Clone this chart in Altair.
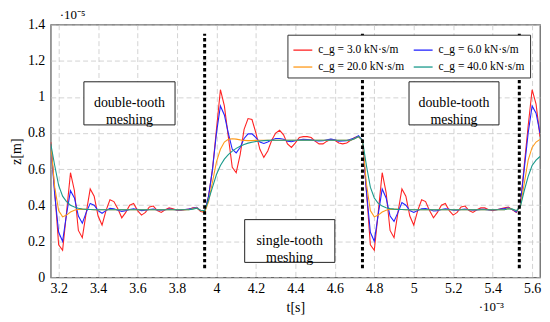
import altair as alt
import pandas as pd

# time grid (ms, x 1e-3 s) and read values (x 1e-5 m)
t_start, t_step, n_pts = 3.16, 0.02, 125
times = [round(t_start + t_step * i, 2) for i in range(n_pts)]

series_names = ["c_g = 3.0 kN·s/m", "c_g = 6.0 kN·s/m", "c_g = 20.0 kN·s/m", "c_g = 40.0 kN·s/m"]
series_colors = ["#ff2424", "#2424ff", "#ff9a1a", "#1a9a8c"]
# legend fills column by column: 3.0 / 20.0 in the first column, 6.0 / 40.0 in the second
legend_order = [series_names[0], series_names[2], series_names[1], series_names[3]]
legend_colors = [series_colors[0], series_colors[2], series_colors[1], series_colors[3]]

red = [
    0.75, 0.48, 0.18, 0.15, 0.36, 0.58, 0.48, 0.26, 0.22, 0.36,
    0.49, 0.45, 0.34, 0.29, 0.37, 0.43, 0.42, 0.38, 0.33, 0.36,
    0.40, 0.41, 0.37, 0.345, 0.36, 0.39, 0.395, 0.37, 0.36, 0.375,
    0.385, 0.38, 0.372, 0.372, 0.375, 0.378, 0.385, 0.385, 0.365,
    0.36, 0.45, 0.60, 0.82, 1.04, 0.95, 0.78, 0.61, 0.58, 0.68,
    0.82, 0.88, 0.875, 0.80, 0.71, 0.665, 0.70, 0.76, 0.80, 0.815,
    0.79, 0.74, 0.72, 0.745, 0.775, 0.78, 0.78, 0.775, 0.755, 0.74,
    0.74, 0.755, 0.765, 0.76, 0.745, 0.74, 0.745, 0.76, 0.775, 0.78,
    0.76, 0.48, 0.18, 0.15, 0.36, 0.58, 0.47, 0.26, 0.22, 0.36,
    0.49, 0.45, 0.34, 0.29, 0.37, 0.43, 0.42, 0.37, 0.33, 0.36,
    0.40, 0.41, 0.37, 0.345, 0.36, 0.39, 0.395, 0.37, 0.36, 0.375,
    0.385, 0.385, 0.375, 0.37, 0.375, 0.38, 0.385, 0.39, 0.375, 0.36,
    0.40, 0.62, 0.84, 1.04, 0.96, 0.78,
]
blue = [
    0.74, 0.46, 0.25, 0.20, 0.35, 0.48, 0.44, 0.34, 0.30, 0.36,
    0.41, 0.40, 0.37, 0.355, 0.37, 0.382, 0.38, 0.372, 0.366, 0.37,
    0.376, 0.38, 0.376, 0.37, 0.372, 0.376, 0.378, 0.374, 0.372, 0.375,
    0.378, 0.376, 0.373, 0.374, 0.376, 0.378, 0.383, 0.388, 0.37,
    0.36, 0.45, 0.60, 0.80, 0.95, 0.90, 0.80, 0.71, 0.69, 0.72,
    0.77, 0.795, 0.795, 0.775, 0.75, 0.742, 0.75, 0.762, 0.77, 0.77,
    0.765, 0.755, 0.752, 0.757, 0.763, 0.765, 0.764, 0.762, 0.758, 0.756,
    0.757, 0.762, 0.766, 0.762, 0.755, 0.756, 0.758, 0.765, 0.772, 0.785,
    0.76, 0.48, 0.25, 0.20, 0.35, 0.49, 0.44, 0.34, 0.31, 0.36,
    0.415, 0.40, 0.37, 0.36, 0.37, 0.38, 0.382, 0.376, 0.368, 0.37,
    0.376, 0.38, 0.377, 0.372, 0.372, 0.376, 0.378, 0.375, 0.372, 0.374,
    0.377, 0.377, 0.374, 0.373, 0.375, 0.378, 0.381, 0.386, 0.376, 0.362,
    0.40, 0.60, 0.80, 0.95, 0.91, 0.80,
]
orange = [
    0.74, 0.50, 0.37, 0.335, 0.345, 0.362, 0.372, 0.377, 0.378, 0.377,
    0.376, 0.375, 0.375, 0.375, 0.375, 0.375, 0.375, 0.375, 0.375, 0.375,
    0.375, 0.375, 0.375, 0.375, 0.375, 0.375, 0.375, 0.375, 0.375, 0.375,
    0.375, 0.375, 0.375, 0.375, 0.375, 0.375, 0.38, 0.385, 0.37,
    0.36, 0.42, 0.53, 0.64, 0.71, 0.75, 0.765, 0.768, 0.766, 0.762,
    0.759, 0.758, 0.758, 0.759, 0.76, 0.76, 0.76, 0.76, 0.76, 0.76,
    0.76, 0.76, 0.76, 0.76, 0.76, 0.76, 0.76, 0.76, 0.76, 0.76,
    0.76, 0.76, 0.76, 0.76, 0.76, 0.76, 0.76, 0.76, 0.768, 0.78,
    0.76, 0.52, 0.37, 0.335, 0.345, 0.362, 0.372, 0.377, 0.378, 0.377,
    0.376, 0.375, 0.375, 0.375, 0.375, 0.375, 0.375, 0.375, 0.375, 0.375,
    0.375, 0.375, 0.375, 0.375, 0.375, 0.375, 0.375, 0.375, 0.375, 0.375,
    0.375, 0.375, 0.375, 0.375, 0.375, 0.375, 0.375, 0.382, 0.378, 0.368,
    0.39, 0.52, 0.65, 0.72, 0.75, 0.765,
]
teal = [
    0.74, 0.62, 0.51, 0.45, 0.42, 0.40, 0.39, 0.383, 0.379, 0.377,
    0.376, 0.375, 0.375, 0.375, 0.375, 0.375, 0.375, 0.375, 0.375, 0.375,
    0.375, 0.375, 0.375, 0.375, 0.375, 0.375, 0.375, 0.375, 0.375, 0.375,
    0.375, 0.375, 0.375, 0.375, 0.375, 0.375, 0.378, 0.383, 0.372,
    0.37, 0.43, 0.50, 0.57, 0.62, 0.655, 0.68, 0.70, 0.715, 0.727,
    0.737, 0.744, 0.749, 0.753, 0.756, 0.758, 0.759, 0.76, 0.76, 0.76,
    0.76, 0.76, 0.76, 0.76, 0.76, 0.76, 0.76, 0.76, 0.76, 0.76,
    0.76, 0.76, 0.76, 0.76, 0.76, 0.76, 0.76, 0.76, 0.768, 0.78,
    0.76, 0.62, 0.50, 0.44, 0.41, 0.395, 0.386, 0.381, 0.378, 0.377,
    0.376, 0.375, 0.375, 0.375, 0.375, 0.375, 0.375, 0.375, 0.375, 0.375,
    0.375, 0.375, 0.375, 0.375, 0.375, 0.375, 0.375, 0.375, 0.375, 0.375,
    0.375, 0.375, 0.375, 0.375, 0.375, 0.375, 0.375, 0.38, 0.378, 0.37,
    0.39, 0.48, 0.56, 0.62, 0.65, 0.67,
]

x_ticks = [3.2, 3.4, 3.6, 3.8, 4.0, 4.2, 4.4, 4.6, 4.8, 5.0, 5.2, 5.4, 5.6]
y_ticks = [0, 0.2, 0.4, 0.6, 0.8, 1.0, 1.2, 1.4]
switch_times = [3.94, 4.74, 5.535]
switch_z1 = [0.05, 0.05, 0.05]
switch_z2 = [1.35, 1.35, 1.35]

box_labels = ["double-tooth\nmeshing", "single-tooth\nmeshing", "double-tooth\nmeshing"]
box_t1 = [3.328, 4.143, 4.976]
box_t2 = [3.79, 4.60, 5.432]
box_z1 = [0.845, 0.083, 0.845]
box_z2 = [1.084, 0.32, 1.084]
box_tc = [3.559, 4.371, 5.204]
box_zc = [0.966, 0.201, 0.966]

FONT = "Liberation Serif"

rows = []
for name, vals in zip(series_names, [red, blue, orange, teal]):
    for t, z in zip(times, vals):
        rows.append({"series": name, "t": t, "z": z})
df = pd.DataFrame(rows)

x_scale = alt.Scale(domain=[3.16, 5.64], nice=False, zero=False)
y_scale = alt.Scale(domain=[0, 1.4], nice=False, zero=False)
x_axis = alt.Axis(values=x_ticks, format=".1~f", title="t[s]", labelOverlap=False,
                  titleY=30, titleBaseline="middle", labelPadding=4)
y_axis = alt.Axis(values=y_ticks, format=".1~f", title="z[m]", labelOverlap=False,
                  titleX=-34, titleY=127, titleAngle=-90,
                  titleBaseline="middle", titleAlign="center", labelPadding=6)

X = alt.X("t:Q", scale=x_scale, axis=x_axis)
Y = alt.Y("z:Q", scale=y_scale, axis=y_axis)

lines = alt.Chart(df).mark_line(strokeWidth=1.1, clip=True).encode(
    x=X, y=Y,
    color=alt.Color("series:N", sort=legend_order,
                    scale=alt.Scale(domain=legend_order, range=legend_colors),
                    legend=alt.Legend(title=None, orient="top-right", offset=10, columns=2,
                                      symbolType="stroke", symbolSize=361, symbolStrokeWidth=1.3,
                                      labelFont=FONT, labelFontSize=11.5, labelColor="black",
                                      labelOffset=5, columnPadding=6, rowPadding=1,
                                      padding=5, strokeColor="#333", fillColor="white")),
    detail="series:N",
)

rules_df = pd.DataFrame({"t": switch_times, "z": switch_z1, "z2": switch_z2})
rules = alt.Chart(rules_df).mark_rule(
    color="black", strokeWidth=3, strokeDash=[3.5, 2.5]
).encode(x=X, y=Y, y2="z2:Q")

boxes_df = pd.DataFrame({"t": box_t1, "t2": box_t2, "z": box_z1, "z2": box_z2})
boxes = alt.Chart(boxes_df).mark_rect(fill="white", stroke="#222", strokeWidth=1).encode(
    x=X, x2="t2:Q", y=Y, y2="z2:Q"
)

texts_df = pd.DataFrame({"t": box_tc, "z": box_zc, "label": box_labels})
texts = alt.Chart(texts_df).mark_text(
    font=FONT, fontSize=14, lineBreak="\n", lineHeight=17, baseline="middle", align="center", color="black"
).encode(x=X, y=Y, text="label:N")

exp_y = alt.Chart(pd.DataFrame({"label": ["·10⁻⁵"]})).mark_text(
    font=FONT, fontSize=13, align="center", baseline="alphabetic", color="black"
).encode(x=alt.value(22), y=alt.value(-6), text="label:N")

exp_x = alt.Chart(pd.DataFrame({"label": ["·10⁻³"]})).mark_text(
    font=FONT, fontSize=13, align="center", baseline="alphabetic", color="black"
).encode(x=alt.value(443), y=alt.value(288), text="label:N")

chart = alt.layer(lines, rules, boxes, texts, exp_y, exp_x).properties(
    width=492, height=254,
    padding={"left": 43, "top": 16, "right": 2, "bottom": 38},
    autosize=alt.AutoSizeParams(type="none"),
).configure_view(
    stroke="#666", strokeWidth=1.3
).configure_axis(
    grid=True, gridColor="#c8c8c8", gridDash=[5, 3], gridWidth=0.8,
    domain=False, ticks=False,
    labelFont=FONT, labelFontSize=14, labelColor="black",
    titleFont=FONT, titleFontSize=14, titleFontWeight="normal", titleColor="black",
)

chart.save("out.html", embed_options={"renderer": "svg", "actions": False})
